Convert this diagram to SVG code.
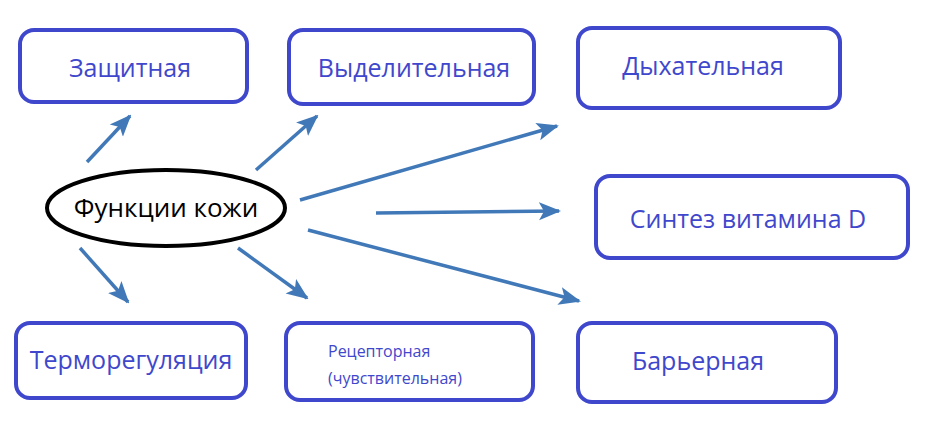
<svg xmlns="http://www.w3.org/2000/svg" width="925" height="428" viewBox="0 0 925 428">
<style>
.b{fill:#fff;stroke:#3f48cc;stroke-width:4}
.t{font-family:"Open Sans","Liberation Sans",sans-serif;fill:#3f48cc;font-size:25px}
.s{font-size:16px}
.c line{stroke:#4179b8;stroke-width:3.5;marker-end:url(#a)}
</style>
<defs><marker id="a" viewBox="-20 -10 22 20" refX="0" refY="0" markerWidth="22" markerHeight="20" markerUnits="userSpaceOnUse" orient="auto"><path d="M-20,-9 L2,0 L-20,9 L-15,0Z" fill="#4179b8"/></marker></defs>
<rect width="925" height="428" fill="#fff"/>
<g class="c">
<line x1="87" y1="162" x2="130" y2="116"/>
<line x1="256" y1="170" x2="317" y2="116"/>
<line x1="300" y1="200" x2="557" y2="126"/>
<line x1="376" y1="213" x2="559" y2="211"/>
<line x1="308" y1="230" x2="579" y2="301"/>
<line x1="238" y1="248" x2="307" y2="298"/>
<line x1="80" y1="248" x2="128" y2="302"/>
</g>
<g id="center"><ellipse cx="166" cy="208" rx="119" ry="38" fill="#fff" stroke="#000" stroke-width="4"/><text x="166" y="217" text-anchor="middle" font-family="Open Sans,Liberation Sans,sans-serif" font-size="26">Функции кожи</text></g>
<g id="n1"><rect class="b" x="20" y="30" width="227" height="72" rx="14"/><text class="t" x="130" y="77" text-anchor="middle">Защитная</text></g>
<g id="n2"><rect class="b" x="289" y="30" width="245" height="74" rx="14"/><text class="t" x="414" y="77" text-anchor="middle">Выделительная</text></g>
<g id="n3"><rect class="b" x="578" y="28" width="262" height="80" rx="14"/><text class="t" x="703" y="75" text-anchor="middle">Дыхательная</text></g>
<g id="n4"><rect class="b" x="596" y="176" width="312" height="82" rx="14"/><text class="t" x="748" y="228" text-anchor="middle">Синтез витамина D</text></g>
<g id="n5"><rect class="b" x="578" y="323" width="258" height="79" rx="14"/><text class="t" x="698" y="370" text-anchor="middle">Барьерная</text></g>
<g id="n6"><rect class="b" x="286" y="323" width="247" height="77" rx="14"/><text class="t s" x="328" y="357">Рецепторная</text><text class="t s" x="328" y="384">(чувствительная)</text></g>
<g id="n7"><rect class="b" x="16" y="323" width="230" height="75" rx="14"/><text class="t" x="131" y="369" text-anchor="middle">Терморегуляция</text></g>
</svg>
